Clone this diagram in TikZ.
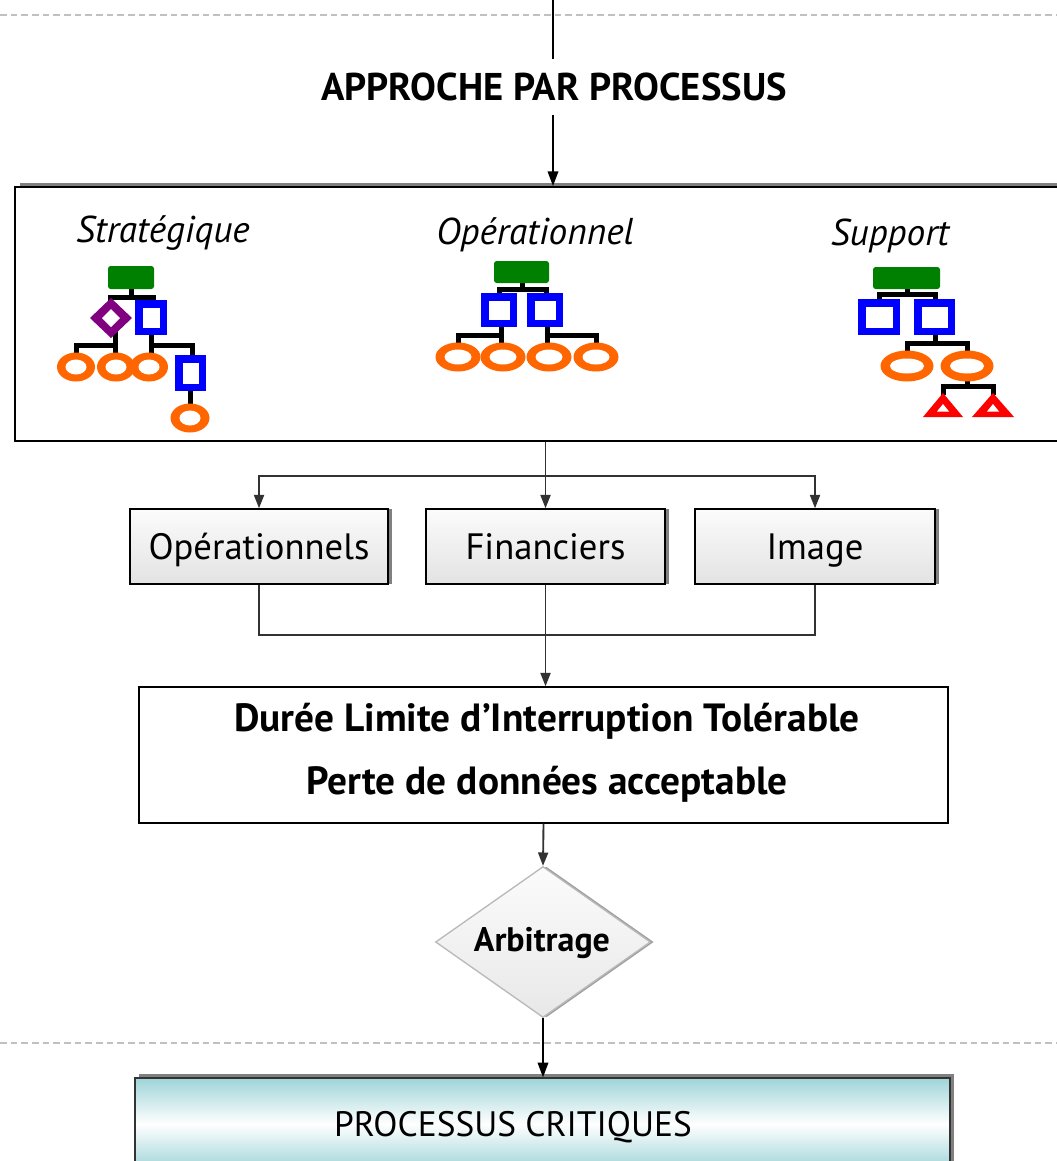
\documentclass[tikz,border=0pt]{standalone}
\usepackage{fontspec}
\setmainfont{PT Sans}
\usetikzlibrary{arrows.meta,shapes.geometric,shadows}
\definecolor{icgreen}{RGB}{0,128,0}
\definecolor{icblue}{RGB}{0,0,255}
\definecolor{icpurple}{RGB}{128,0,128}
\definecolor{icorange}{RGB}{255,102,0}
\definecolor{icred}{RGB}{255,0,0}
\definecolor{conncol}{RGB}{50,50,50}
\definecolor{dashgray}{RGB}{192,192,192}
\definecolor{shadgray}{RGB}{128,128,128}
\definecolor{tealc}{RGB}{158,212,216}
\def\PX{0.75pt}
\newcommand\icgbox[4]{\fill[icgreen,rounded corners=2pt] (#1,#2) rectangle (#3,#4);}
\newcommand\icsq[4]{\fill[icblue] (#1,#2) rectangle (#3,#4); \fill[white] (#1+7.5,#2+7.5) rectangle (#3-7.5,#4-7.5);}
\newcommand\icell[6]{\fill[icorange] (#1,#2) ellipse [x radius=#3*\PX, y radius=#4*\PX]; \fill[white] (#1,#2) ellipse [x radius=#5*\PX, y radius=#6*\PX];}
\tikzset{
  icl/.style={line width=3.75pt, black},
  dashline/.style={draw=dashgray, line width=1.1pt, dash pattern=on 5pt off 3pt},
  topline/.style={draw=black, line width=1.1pt},
  toparrow/.style={draw=black, line width=1.1pt, -{Triangle[length=11pt,width=8pt]}},
  connline/.style={draw=conncol, line width=1.4pt},
  connarrow/.style={draw=conncol, line width=1.4pt, -{Triangle[length=10pt,width=7.5pt]}},
  bigbox/.style={draw=black, line width=1.5pt, fill=white, inner sep=0pt,
    drop shadow={shadow xshift=4pt, shadow yshift=3pt, fill=shadgray, opacity=1}},
  riskbox/.style={draw=black, line width=1.1pt, top color=gray!3, bottom color=gray!22, inner sep=0pt,
    drop shadow={shadow xshift=3pt, shadow yshift=0pt, fill=shadgray, opacity=1},
    text height=25pt, text depth=5pt,
    font=\fontsize{27.5}{32}\selectfont},
  dlbox/.style={draw=black, line width=1.1pt, fill=white, inner sep=0pt},
  dltext/.style={font=\fontsize{29.5}{34}\selectfont\bfseries, inner sep=0pt},
  catlabel/.style={font=\fontsize{28}{32}\selectfont\itshape, inner sep=0pt, anchor=base},
  arbshape/.style={diamond, draw=gray!55, line width=1pt, top color=gray!3, bottom color=gray!18, inner sep=0pt,
    minimum width=215*\PX, minimum height=151*\PX,
    drop shadow={shadow xshift=2.5pt, shadow yshift=0pt, fill=gray!75, opacity=1}},
  arbtext/.style={inner sep=0pt, font=\fontsize{25.5}{30}\selectfont\bfseries},
  pcbox/.style={draw=black!80, line width=1.1pt, top color=tealc, bottom color=tealc, middle color=white, inner sep=0pt,
    drop shadow={shadow xshift=3pt, shadow yshift=3pt, fill=shadgray, opacity=1}},
}
\begin{document}
\begin{tikzpicture}[x=0.75pt, y=-0.75pt]
\useasboundingbox (0,0) rectangle (1057,1161);
% dashed separators
\coordinate (dl1) at (0,15);
\coordinate (dr1) at (1057,15);
\coordinate (dl2) at (0,1043);
\coordinate (dr2) at (1057,1043);
\draw[dashline] (dl1) -- (dr1);
\draw[dashline] (dl2) -- (dr2);
% title
\coordinate (top) at (553,0);
\node[inner sep=0pt, minimum height=55*\PX, font=\fontsize{29}{34}\selectfont\bfseries] (title) at (554,87) {APPROCHE PAR PROCESSUS};
\draw[topline] (top) -- (top |- title.north);
% big box
\node[bigbox, minimum width=1050*\PX, minimum height=254*\PX] (big) at (540,314) {};
\draw[toparrow] (top |- title.south) -- (top |- big.north);
% category labels
\node[catlabel] (lstrat) at (163,242) {Stratégique};
\node[catlabel] (lop) at (535,244) {Opérationnel};
\node[catlabel] (lsup) at (890,245) {Support};
% ---- icon Strategique
\draw[icl] (131,289) -- (131,297);
\draw[icl] (110,303) -- (110,297) -- (153,297) -- (153,303);
\draw[icl] (115,330) -- (115,356);
\draw[icl] (76,356) -- (76,345) -- (115,345);
\draw[icl] (151,330) -- (151,356);
\draw[icl] (151,345) -- (192,345) -- (192,358);
\draw[icl] (190,388) -- (190,406);
\icgbox{108}{266}{154}{289}
\fill[icpurple] (111,298) -- (132,318) -- (111,338) -- (90,318) -- cycle;
\fill[white] (111,309) -- (120,318) -- (111,327) -- (102,318) -- cycle;
\icsq{135}{300}{167}{335}
\icsq{175}{355}{206}{391}
\icell{76}{367}{19}{14.5}{10.5}{7.5}
\icell{116}{367}{19}{14.5}{10.5}{7.5}
\icell{149}{367}{19}{14.5}{10.5}{7.5}
\icell{190}{418}{19.5}{14.5}{10.5}{7.5}
% ---- icon Operationnel
\draw[icl] (522,283) -- (522,289);
\draw[icl] (499,295) -- (499,289) -- (546,289) -- (546,295);
\draw[icl] (501,325) -- (501,345);
\draw[icl] (458,345) -- (458,335) -- (501,335);
\draw[icl] (547,325) -- (547,345);
\draw[icl] (547,335) -- (596,335) -- (596,345);
\icgbox{494}{261}{549}{283}
\icsq{481}{293}{517}{327}
\icsq{527}{293}{563}{327}
\icell{458}{357}{22.5}{14.5}{13.5}{7.5}
\icell{503}{357}{22.5}{14.5}{13.5}{7.5}
\icell{549}{357}{22.5}{14.5}{13.5}{7.5}
\icell{596}{357}{22.5}{14.5}{13.5}{7.5}
% ---- icon Support
\draw[icl] (907,289) -- (907,294);
\draw[icl] (879,301) -- (879,294) -- (935,294) -- (935,301);
\draw[icl] (935,333) -- (935,343);
\draw[icl] (907,352) -- (907,343) -- (967,343) -- (967,352);
\draw[icl] (967,379) -- (967,386);
\draw[icl] (943,395) -- (943,386) -- (993,386) -- (993,395);
\icgbox{873}{267}{940}{289}
\icsq{858}{299}{900}{335}
\icsq{914}{299}{955}{335}
\icell{907}{366}{26.5}{15.5}{17}{7.5}
\icell{967}{366}{26.5}{15.5}{17}{7.5}
\fill[icred] (923,417) -- (943,393) -- (963,417) -- cycle;
\fill[white] (937,411.5) -- (943,404) -- (949,411.5) -- cycle;
\fill[icred] (972,417) -- (993,393) -- (1014,417) -- cycle;
\fill[white] (987,411.5) -- (993,404) -- (999,411.5) -- cycle;
% ---- risk boxes
\node[riskbox, minimum width=258*\PX, minimum height=75*\PX] (ops) at (259,546.5) {Opérationnels};
\node[riskbox, minimum width=239*\PX, minimum height=75*\PX] (fin) at (545.5,546.5) {Financiers};
\node[riskbox, minimum width=240*\PX, minimum height=75*\PX] (img) at (815,546.5) {Image};
\coordinate (j1) at (545.5,476);
\draw[connline] (big.south -| j1) -- (j1);
\draw[connarrow] (j1) -| (ops.north);
\draw[connarrow] (j1) -- (fin.north);
\draw[connarrow] (j1) -| (img.north);
% ---- DLIT box
\node[dlbox, minimum width=809*\PX, minimum height=136*\PX] (dlit) at (543.5,755) {};
\node[dltext] (dl1t) at (547,721) {Durée Limite d’Interruption Tolérable};
\node[dltext] (dl2t) at (547,784) {Perte de données acceptable};
\coordinate (j2) at (545.5,635);
\draw[connline] (ops.south) |- (j2);
\draw[connline] (img.south) |- (j2);
\draw[connarrow] (fin.south) -- (fin.south |- dlit.north);
% ---- Arbitrage
\node[arbshape] (arb) at (543,942) {};
\node[arbtext] (arbt) at (542,943) {Arbitrage};
\draw[connarrow] (dlit.south) -- (arb.north);
% ---- Processus critiques
\node[pcbox, minimum width=815*\PX, minimum height=92*\PX] (pc) at (542.5,1124) {};
\node[inner sep=0pt, font=\fontsize{26.5}{30}\selectfont] (pct) at (513,1127) {PROCESSUS CRITIQUES};
\draw[toparrow] (arb.south) -- (arb.south |- pc.north);
\end{tikzpicture}
\end{document}
